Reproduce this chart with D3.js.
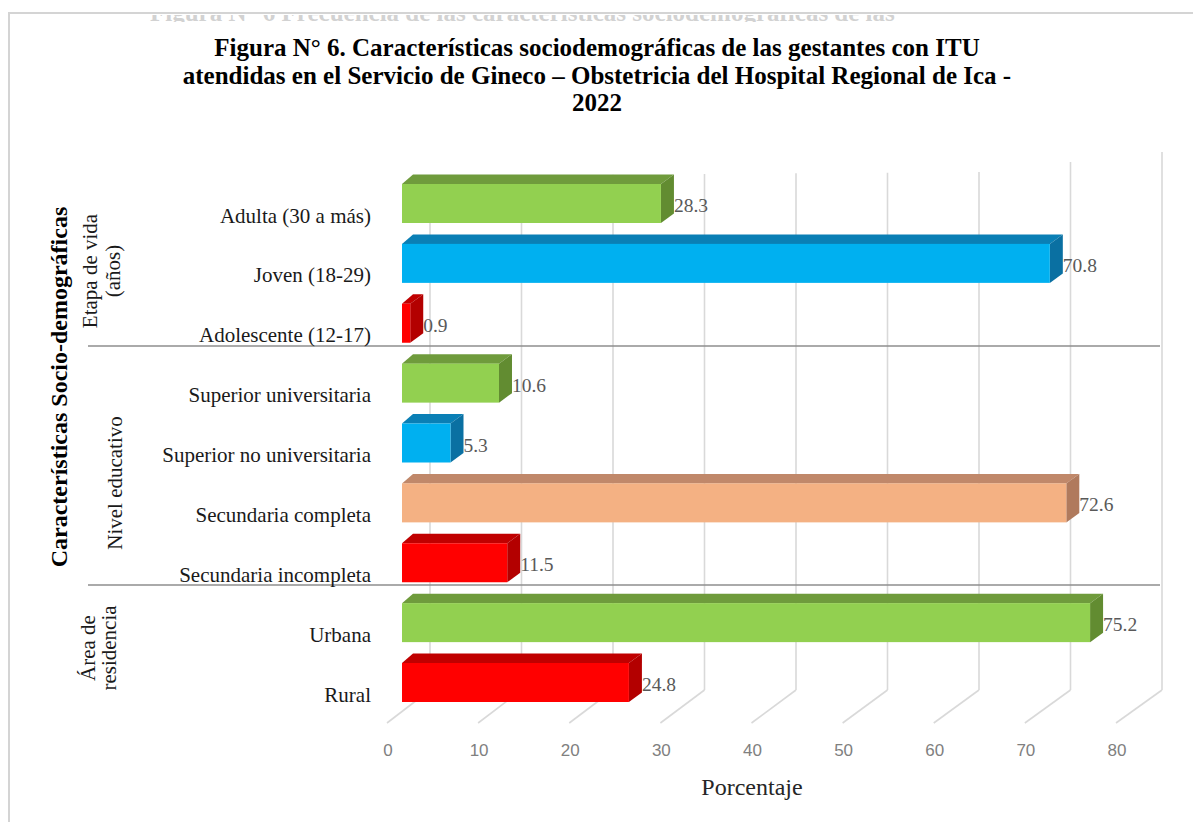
<!DOCTYPE html>
<html>
<head>
<meta charset="utf-8">
<script src="https://cdn.jsdelivr.net/npm/d3@7/dist/d3.min.js"></script>
<style>
  html, body { margin: 0; padding: 0; background: #ffffff; }
  svg { display: block; }
</style>
</head>
<body>
<svg id="chart" width="1193" height="822"></svg>
<script>
// ---------------- data ----------------
const titleLines = [
  "Figura N° 6. Características sociodemográficas de las gestantes con ITU",
  "atendidas en el Servicio de Gineco – Obstetricia del Hospital Regional de Ica -",
  "2022"
];
const categories = [
  "Adulta (30 a más)",
  "Joven (18-29)",
  "Adolescente (12-17)",
  "Superior universitaria",
  "Superior no universitaria",
  "Secundaria completa",
  "Secundaria incompleta",
  "Urbana",
  "Rural"
];
const values = [28.3, 70.8, 0.9, 10.6, 5.3, 72.6, 11.5, 75.2, 24.8];
const colorKeys = ["green", "blue", "red", "green", "blue", "salmon", "red", "green", "red"];
const groupNames = [["Etapa de vida", "(años)"], ["Nivel educativo"], ["Área de", "residencia"]];
const xTicks = [0, 10, 20, 30, 40, 50, 60, 70, 80];
const yAxisTitle = "Características Socio-demográficas";
const xAxisTitle = "Porcentaje";

// ---------------- styles ----------------
const palette = {
  green:  { front: "#92d050", top: "#6f9b3c", side: "#628c31" },
  blue:   { front: "#00b0f0", top: "#0a7fb5", side: "#0a70a2" },
  red:    { front: "#ff0000", top: "#c00000", side: "#b30000" },
  salmon: { front: "#f4b183", top: "#c0886a", side: "#b07a5d" }
};

const svg = d3.select("#chart");

// cut off heading remnant below the top frame line
const clip = svg.append("defs").append("clipPath").attr("id", "cutTop");
clip.append("rect").attr("x", 140).attr("y", 15).attr("width", 760).attr("height", 7);
svg.append("text")
  .attr("clip-path", "url(#cutTop)")
  .attr("x", 150).attr("y", 21)
  .attr("font-family", "Liberation Serif, Times New Roman, serif")
  .attr("font-weight", "bold").attr("font-size", 25)
  .attr("fill", "#d2d2d2")
  .text("Figura N° 6 Frecuencia de las características sociodemográficas de las");

// frame
svg.append("path")
  .attr("d", "M9,822 L9,13 L1193,13")
  .attr("fill", "none").attr("stroke", "#d4d4d4").attr("stroke-width", 2);

// title
svg.append("g").selectAll("text").data(titleLines).join("text")
  .attr("x", 597).attr("y", (d, i) => 56 + i * 27.5)
  .attr("text-anchor", "middle")
  .attr("font-family", "Liberation Serif, Times New Roman, serif")
  .attr("font-weight", "bold").attr("font-size", 25)
  .attr("fill", "#000")
  .text(d => d);

// scales
const xBar = d3.scaleLinear().domain([0, 80]).range([402, 1134]);
const xBack = d3.scaleLinear().domain([0, 80]).range([430, 1162]);
const xFront = d3.scaleLinear().domain([0, 80]).range([388, 1117]);
const y = d3.scalePoint().domain(categories).range([203.5, 682.5]);
const floorFront = 723, floorBack = 690;
const wallTop = d3.scaleLinear().domain([0, 60, 80]).range([176, 172, 152]);

// grid: back wall verticals + floor diagonals
const grid = svg.append("g").attr("stroke", "#d9d9d9").attr("stroke-width", 1.6).attr("fill", "none");
grid.selectAll("line.v").data(xTicks).join("line").attr("class", "v")
  .attr("x1", d => xBack(d)).attr("x2", d => xBack(d))
  .attr("y1", d => wallTop(d)).attr("y2", floorBack);
grid.selectAll("line.f").data(xTicks).join("line").attr("class", "f")
  .attr("x1", d => xFront(d) - 1).attr("x2", d => xBack(d))
  .attr("y1", floorFront).attr("y2", floorBack);

// group separators
const sepY = [346, 585];
svg.append("g").selectAll("line").data(sepY).join("line")
  .attr("x1", 88).attr("x2", 1160).attr("y1", d => d).attr("y2", d => d)
  .attr("stroke", "#8e8e8e").attr("stroke-width", 1.5);

// bars
const barH = 39, ddxL = 11, ddxR = 13, ddy = 9.5;
const bars = svg.append("g").selectAll("g").data(values).join("g");
bars.each(function (v, i) {
  const g = d3.select(this);
  const c = palette[colorKeys[i]];
  const x0 = xBar(0), x1 = xBar(v);
  const yc = y(categories[i]);
  const yt = yc - barH / 2, yb = yc + barH / 2;
  g.append("polygon")
    .attr("points", [[x0, yt], [x0 + ddxL, yt - ddy], [x1 + ddxR, yt - ddy], [x1, yt]].join(" "))
    .attr("fill", c.top);
  g.append("polygon")
    .attr("points", [[x1, yt], [x1 + ddxR, yt - ddy], [x1 + ddxR, yb - ddy], [x1, yb]].join(" "))
    .attr("fill", c.side);
  g.append("rect")
    .attr("x", x0).attr("y", yt).attr("width", x1 - x0).attr("height", barH)
    .attr("fill", c.front);
  g.append("text")
    .attr("x", x1 + 13).attr("y", yc + 8.5)
    .attr("font-family", "Liberation Serif, Times New Roman, serif")
    .attr("font-size", 19.5).attr("fill", "#595959")
    .text(v.toFixed(1));
});

// category labels
svg.append("g").selectAll("text").data(categories).join("text")
  .attr("x", 371).attr("y", d => y(d) + 19)
  .attr("text-anchor", "end")
  .attr("font-family", "Liberation Serif, Times New Roman, serif")
  .attr("font-size", 21).attr("fill", "#1a1a1a")
  .text(d => d);

// group labels (rotated)
const groupCenters = [271, 483, 648];
const groupX = [[90, 113], [115], [88, 109]];
groupNames.forEach((lines, gi) => {
  lines.forEach((t, li) => {
    svg.append("text")
      .attr("transform", `translate(${groupX[gi][li]},${groupCenters[gi]}) rotate(-90)`)
      .attr("text-anchor", "middle").attr("dy", "0.35em")
      .attr("font-family", "Liberation Serif, Times New Roman, serif")
      .attr("font-size", 21).attr("fill", "#1a1a1a")
      .text(t);
  });
});

// main y title
svg.append("text")
  .attr("transform", "translate(59,387) rotate(-90)")
  .attr("text-anchor", "middle").attr("dy", "0.35em")
  .attr("font-family", "Liberation Serif, Times New Roman, serif")
  .attr("font-weight", "bold").attr("font-size", 24).attr("fill", "#000")
  .text(yAxisTitle);

// x tick labels
svg.append("g").selectAll("text").data(xTicks).join("text")
  .attr("x", d => xFront(d)).attr("y", 756)
  .attr("text-anchor", "middle")
  .attr("font-family", "Liberation Sans, Arial, sans-serif")
  .attr("font-size", 17).attr("fill", "#808080")
  .text(d => d);

// x title
svg.append("text")
  .attr("x", 752).attr("y", 795)
  .attr("text-anchor", "middle")
  .attr("font-family", "Liberation Serif, Times New Roman, serif")
  .attr("font-size", 24).attr("fill", "#262626")
  .text(xAxisTitle);
</script>
</body>
</html>
